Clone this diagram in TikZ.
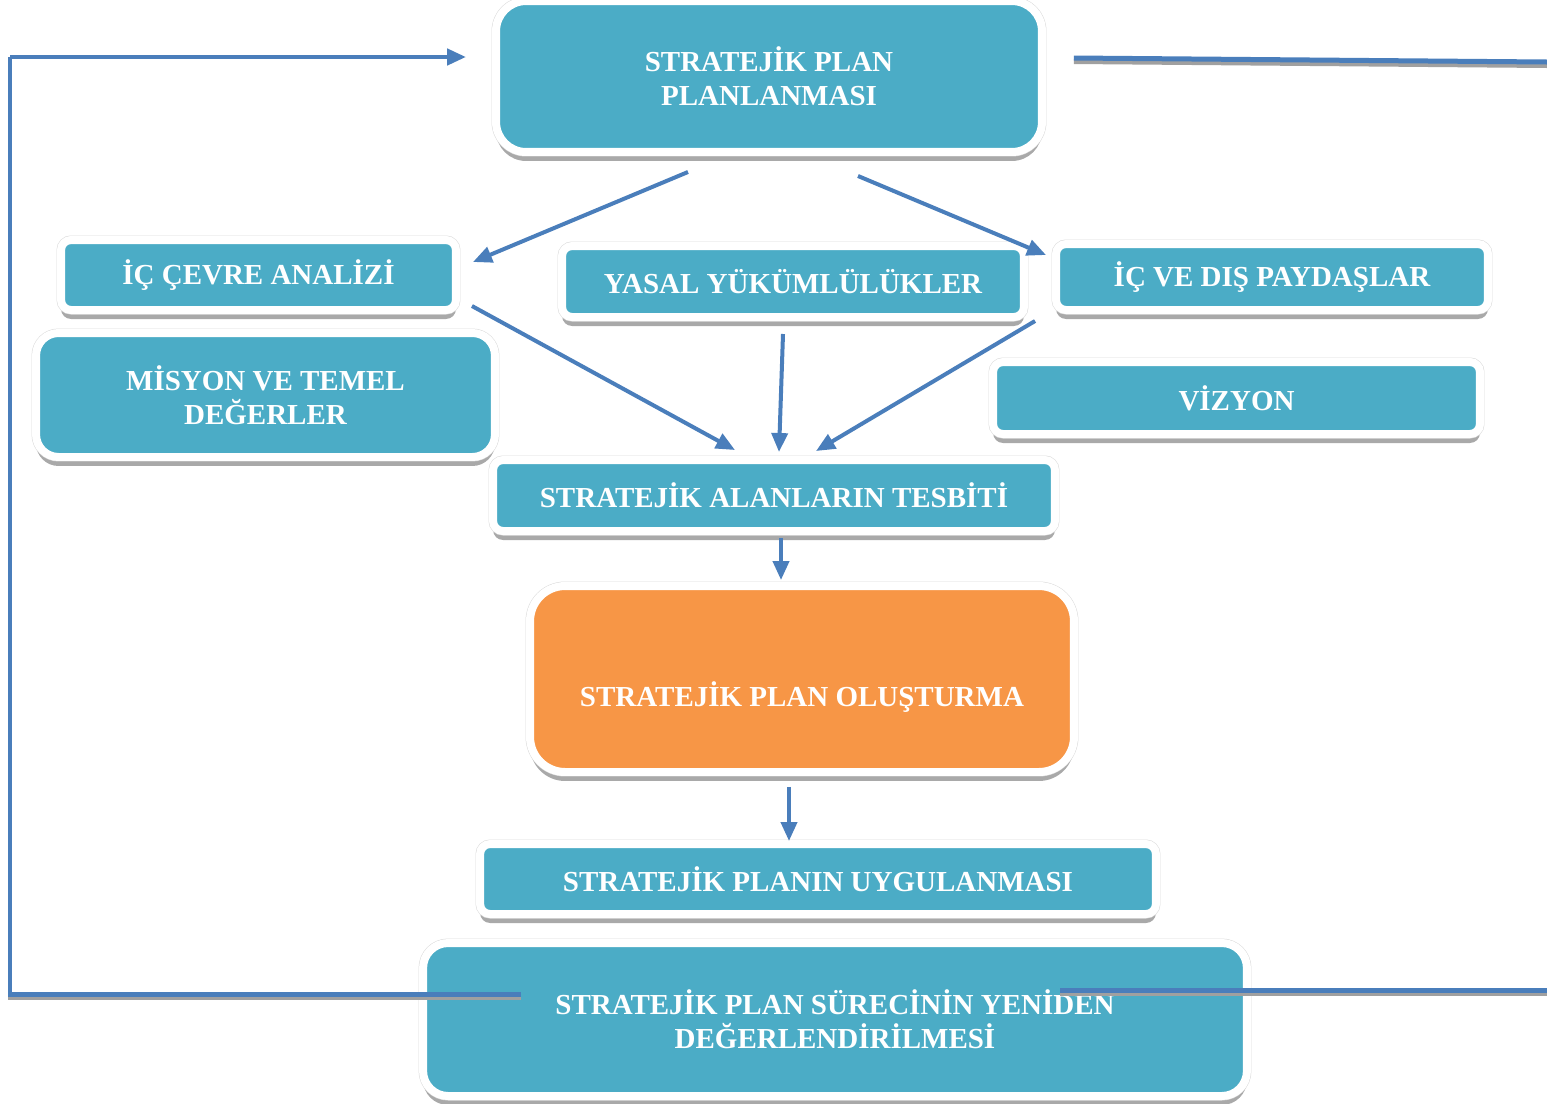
\documentclass[tikz,border=0pt]{standalone}
\usepackage{fontspec}
\setmainfont{Liberation Serif}
\usetikzlibrary{arrows.meta,calc,shadows}
\definecolor{boxteal}{HTML}{4BACC6}
\definecolor{boxorange}{HTML}{F79646}
\definecolor{linkblue}{HTML}{4A7EBB}
\definecolor{shadowgray}{HTML}{A0A0A0}
\tikzset{
  stage/.style={rectangle, fill=boxteal, draw=white, line width=0.16cm,
    text=white, font=\fontsize{16.5}{19.5}\selectfont\bfseries, align=center,
    inner sep=0pt, rounded corners=0.2cm,
    drop shadow={shadow xshift=0cm, shadow yshift=-0.18cm, fill=shadowgray, opacity=0.9},
    preaction={draw=black!15, line width=0.18cm}},
  link/.style={draw=linkblue, line width=0.08cm, -{Triangle[length=0.38cm,width=0.32cm]}},
  loopline/.style={draw=linkblue, line width=0.1cm,
    preaction={draw=shadowgray, line width=0.1cm, transform canvas={yshift=-0.07cm}}},
}
\begin{document}
\begin{tikzpicture}[x=0.02cm, y=-0.02cm]
    \useasboundingbox (0, 0) rectangle (1547, 1103);

    \node[stage, minimum width=10.92cm, minimum height=3.02cm, rounded corners=0.6cm] (plan) at (769, 76.5) {STRATEJİK PLAN\\PLANLANMASI};
    \node[stage, minimum width=7.9cm, minimum height=1.4cm] (cevre) at (258.5, 275) {İÇ ÇEVRE ANALİZİ};
    \node[stage, minimum width=9.24cm, minimum height=1.42cm] (yasal) at (793, 281.5) {YASAL YÜKÜMLÜLÜKLER};
    \node[stage, minimum width=8.64cm, minimum height=1.32cm] (paydas) at (1272, 277) {İÇ VE DIŞ PAYDAŞLAR};
    \node[stage, minimum width=9.18cm, minimum height=2.48cm, rounded corners=0.45cm] (misyon) at (265.5, 395) {MİSYON VE TEMEL\\DEĞERLER};
    \node[stage, minimum width=9.74cm, minimum height=1.44cm] (vizyon) at (1236.5, 398) {VİZYON};
    \node[stage, minimum width=11.24cm, minimum height=1.42cm] (tesbit) at (774, 495.5) {STRATEJİK ALANLARIN TESBİTİ};
    \node[stage, fill=boxorange, minimum width=10.88cm, minimum height=3.72cm, rounded corners=0.7cm,
          text height=1.2cm, text depth=0.1cm] (olustur) at (802, 679) {STRATEJİK PLAN OLUŞTURMA};
    \node[stage, minimum width=13.52cm, minimum height=1.4cm] (uygula) at (818, 879) {STRATEJİK PLANIN UYGULANMASI};
    \node[stage, minimum width=16.48cm, minimum height=3.06cm, rounded corners=0.5cm] (surec) at (835, 1019.5) {STRATEJİK PLAN SÜRECİNİN YENİDEN\\DEĞERLENDİRİLMESİ};

    \draw[link] ($(plan.south)+(-81, 16)$) -- ($(cevre.east)+(13, -13)$);
    \draw[link] ($(plan.south)+(89, 20)$) -- ($(paydas.north west)+(-6, 15)$);
    \draw[link] ($(cevre.south east)+(12, -8)$) -- ($(tesbit.north)+(-39, -6)$);
    \draw[link] ($(yasal.south)+(-10, 13)$) -- ($(tesbit.north)+(5, -4)$);
    \draw[link] ($(paydas.south west)+(-17, 7)$) -- ($(tesbit.north)+(42, -5)$);
    \draw[link] ($(tesbit.south)+(7, 3)$) -- ($(olustur.north)+(-21, -2)$);
    \draw[link] ($(olustur.south)+(-13, 11)$) -- ($(uygula.north)+(-29, 1)$);

    \coordinate (topend) at (1547, 62);
    \coordinate (botend) at (1547, 990);
    \draw[loopline] ($(surec.west)+(102, -25.5)$) -- (10, 994) -- (10, 57);
    \draw[link, line width=0.09cm] (10, 57) -- ($(plan.west)+(-26, -19.5)$);
    \draw[loopline] ($(plan.east)+(28, -18.5)$) -- (topend);
    \draw[loopline] ($(surec.center)+(225, -29.5)$) -- (botend);
\end{tikzpicture}
\end{document}
